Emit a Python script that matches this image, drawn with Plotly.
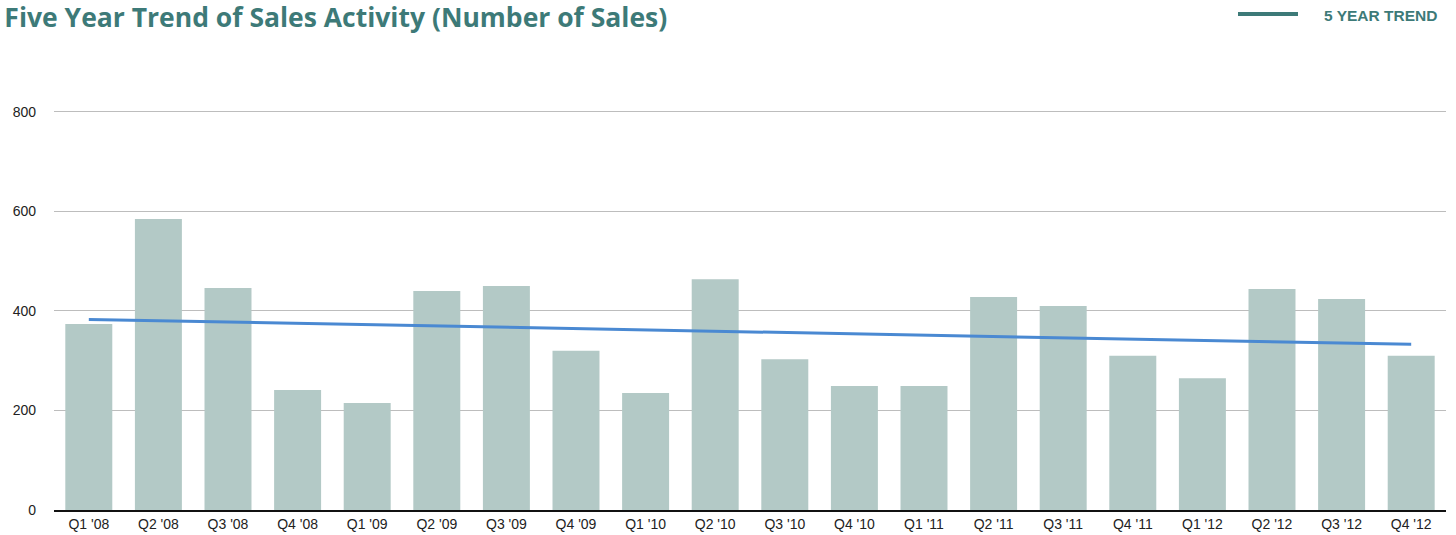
import plotly.graph_objects as go

quarters = ["Q1 '08", "Q2 '08", "Q3 '08", "Q4 '08", "Q1 '09", "Q2 '09", "Q3 '09", "Q4 '09",
            "Q1 '10", "Q2 '10", "Q3 '10", "Q4 '10", "Q1 '11", "Q2 '11", "Q3 '11", "Q4 '11",
            "Q1 '12", "Q2 '12", "Q3 '12", "Q4 '12"]
sales = [374, 585, 446, 241, 215, 440, 450, 320, 235, 464, 303, 249, 249, 428, 410, 310,
         265, 444, 424, 310]
trend_x = ["Q1 '08", "Q4 '12"]
trend_y = [383, 333]
y_ticks = [0, 200, 400, 600, 800]

TEAL = "#3d7a78"
YMAX = 810
TOP = 107
PH = 510 - TOP

fig = go.Figure()
fig.add_trace(go.Bar(x=quarters, y=sales, marker=dict(color="#b3c9c6", line=dict(width=0)),
                     showlegend=False))
fig.add_trace(go.Scatter(x=trend_x, y=trend_y, mode="lines",
                         line=dict(color="#4a89d2", width=3), showlegend=False))

# legend drawn manually
fig.add_shape(type="line", xref="paper", yref="paper", x0=(1238 - 54) / 1392, x1=(1298 - 54) / 1392,
              y0=(510 - 14) / PH, y1=(510 - 14) / PH, line=dict(color=TEAL, width=4))
fig.add_annotation(text="<b>5 YEAR TREND</b>", xref="paper", yref="paper",
                   x=(1322 - 54) / 1392, y=(510 - 15) / PH, xanchor="left", yanchor="middle",
                   showarrow=False, font=dict(family="Liberation Sans, Arial", size=15.5, color=TEAL))

fig.update_layout(
    width=1456, height=535,
    margin=dict(l=54, r=10, t=TOP, b=25),
    plot_bgcolor="white", paper_bgcolor="white",
    bargap=0.325,
    title=dict(text="<b>Five Year Trend of Sales Activity (Number of Sales)</b>",
               x=0.003, xanchor="left", y=0.985, yanchor="top", yref="container",
               font=dict(family="Open Sans", size=26.5, color=TEAL)),
    xaxis=dict(showline=True, linecolor="#111", linewidth=1.5, ticks="", ticklabelstandoff=0,
               automargin=False,
               tickfont=dict(family="Liberation Sans, Arial", size=14, color="#222"),
               showgrid=False, fixedrange=True),
    yaxis=dict(range=[0, YMAX], tickvals=y_ticks, showgrid=True, gridcolor="#bdbdbd", gridwidth=1,
               zeroline=False, showline=False, ticks="", ticklabelstandoff=17, automargin=False,
               tickfont=dict(family="Liberation Sans, Arial", size=14, color="#222")),
)

fig.write_html("out.html")
